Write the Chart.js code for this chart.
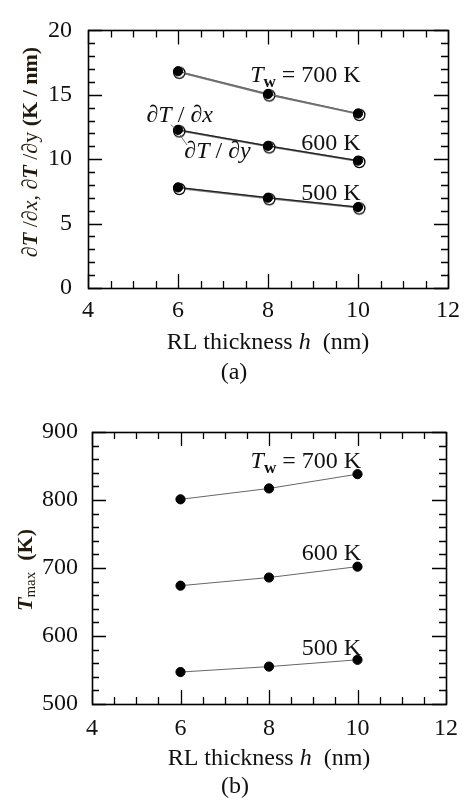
<!DOCTYPE html>
<html>

<head>
    <meta charset="utf-8" />
    <style>
        body { margin: 0; background: #fff; }
        canvas { position: absolute; left: 0; }
    </style>
</head>

<body>
    <canvas id="chartA" width="468" height="400" style="top: 0px;"></canvas>
    <canvas id="chartB" width="468" height="400" style="top: 400px;"></canvas>

    <script src="https://cdn.jsdelivr.net/npm/chart.js"></script>
    <script type="text/javascript">

        // datos
        const thicknessNm = [6, 8, 10];

        // (a) gradientes dT/dx (punto lleno) y dT/dy (circulo abierto), K/nm
        const gradX700 = [16.83, 15.07, 13.55];
        const gradY700 = [16.79, 15.03, 13.52];
        const gradX600 = [12.28, 11.04, 9.89];
        const gradY600 = [12.24, 11.00, 9.86];
        const gradX500 = [7.81, 7.01, 6.28];
        const gradY500 = [7.77, 6.97, 6.25];

        // (b) temperatura maxima, K
        const tmax700 = [801, 817, 838];
        const tmax600 = [674, 686, 702];
        const tmax500 = [547, 555, 565];

        const xRange = [4, 12];
        const gradRange = [0, 20];
        const tmaxRange = [500, 900];

        const SERIF = '"Liberation Serif", "Times New Roman", serif';
        const R = '24px ' + SERIF;
        const I = 'italic 24px ' + SERIF;
        const R22 = '22px ' + SERIF;
        const I22 = 'italic 22px ' + SERIF;
        const B22 = 'bold 22px ' + SERIF;
        const BI22 = 'italic bold 22px ' + SERIF;
        const TITLE_COLOR = '#231a0c';

        function toXY(ys) {
            return thicknessNm.map((x, i) => ({ x: x, y: ys[i] }));
        }

        // circulo abierto un poco desplazado, como en la figura
        function ringStyle() {
            const c = document.createElement('canvas');
            c.width = 18; c.height = 18;
            const g = c.getContext('2d');
            g.beginPath();
            g.arc(9 + 1.3, 9 + 1.0, 5.6, 0, Math.PI * 2);
            g.fillStyle = '#fff';
            g.fill();
            g.lineWidth = 1.3;
            g.strokeStyle = '#000';
            g.stroke();
            return c;
        }

        function drawRich(ctx, x, y, segs, align) {
            let w = 0;
            segs.forEach(s => { ctx.font = s.f; s.w = ctx.measureText(s.t).width; w += s.w; });
            let cx = align === 'center' ? x - w / 2 : (align === 'right' ? x - w : x);
            segs.forEach(s => {
                ctx.font = s.f;
                ctx.fillText(s.t, cx, y + (s.dy || 0));
                cx += s.w;
            });
        }

        // marco, marcas hacia dentro y textos
        const framePlugin = {
            id: 'frame',
            afterDatasetsDraw(chart, args, opts) {
                const ctx = chart.ctx;
                const a = chart.chartArea;
                const xs = chart.scales.x, ys = chart.scales.y;
                ctx.save();
                ctx.strokeStyle = '#000';
                ctx.lineWidth = 1.3;
                ctx.beginPath();
                for (let v = xs.min; v <= xs.max + 1e-9; v += opts.xMinor) {
                    const p = Math.round(xs.getPixelForValue(v)) + 0.5;
                    const len = Math.abs(v / opts.xMajor - Math.round(v / opts.xMajor)) < 1e-6 ? 14 : 7;
                    ctx.moveTo(p, a.bottom); ctx.lineTo(p, a.bottom - len);
                    ctx.moveTo(p, a.top); ctx.lineTo(p, a.top + len);
                }
                for (let v = ys.min; v <= ys.max + 1e-9; v += opts.yMinor) {
                    const p = Math.round(ys.getPixelForValue(v)) + 0.5;
                    const len = Math.abs(v / opts.yMajor - Math.round(v / opts.yMajor)) < 1e-6 ? 14 : 7;
                    ctx.moveTo(a.left, p); ctx.lineTo(a.left + len, p);
                    ctx.moveTo(a.right, p); ctx.lineTo(a.right - len, p);
                }
                ctx.stroke();
                ctx.lineWidth = 1.6;
                ctx.strokeRect(Math.round(a.left) + 0.5, Math.round(a.top) + 0.5,
                    Math.round(a.right - a.left), Math.round(a.bottom - a.top));
                ctx.restore();
            },
            afterDraw(chart, args, opts) {
                const ctx = chart.ctx;
                const a = chart.chartArea;
                const xs = chart.scales.x, ys = chart.scales.y;
                ctx.save();
                ctx.fillStyle = '#111';
                ctx.textBaseline = 'alphabetic';
                (opts.notes || []).forEach(n => {
                    drawRich(ctx, xs.getPixelForValue(n.x), ys.getPixelForValue(n.y), n.segs, n.align);
                });
                ctx.strokeStyle = '#555';
                ctx.lineWidth = 0.8;
                (opts.leaders || []).forEach(l => {
                    ctx.beginPath();
                    ctx.moveTo(xs.getPixelForValue(l[0]), ys.getPixelForValue(l[1]));
                    ctx.lineTo(xs.getPixelForValue(l[2]), ys.getPixelForValue(l[3]));
                    ctx.stroke();
                });
                const cx = (a.left + a.right) / 2;
                drawRich(ctx, cx, opts.xTitleY, [
                    { t: 'RL thickness ', f: R }, { t: 'h', f: I }, { t: '  (nm)', f: R }
                ], 'center');
                drawRich(ctx, cx - 34, opts.tagY, [{ t: opts.tag, f: R }], 'center');
                ctx.fillStyle = TITLE_COLOR;
                ctx.translate(opts.yTitleX, opts.yTitleY);
                ctx.rotate(-Math.PI / 2);
                drawRich(ctx, 0, 0, opts.yTitle, 'center');
                ctx.restore();
            }
        };

        function makeChart(id, datasets, yRange, yStep, geo, frameOpts) {
            return new Chart(document.getElementById(id), {
                type: 'line',
                data: { datasets: datasets },
                options: {
                    responsive: false,
                    animation: false,
                    layout: { padding: { top: geo.top, right: geo.right, left: 0, bottom: 0 } },
                    plugins: { legend: { display: false }, tooltip: { enabled: false }, frame: frameOpts },
                    scales: {
                        x: {
                            type: 'linear', min: xRange[0], max: xRange[1],
                            grid: { display: false, drawTicks: false }, border: { display: false },
                            ticks: { stepSize: 2, color: '#111', font: { family: SERIF, size: 24 }, padding: geo.xPad, maxRotation: 0 },
                            afterFit: s => { s.height = geo.xHeight; }
                        },
                        y: {
                            min: yRange[0], max: yRange[1],
                            grid: { display: false, drawTicks: false }, border: { display: false },
                            ticks: { stepSize: yStep, color: '#111', font: { family: SERIF, size: 24 }, padding: geo.yPad },
                            afterFit: s => { s.width = geo.left; }
                        }
                    }
                },
                plugins: [framePlugin]
            });
        }

        const ring = ringStyle();

        function dotSet(ys, color, width) {
            return {
                data: toXY(ys), borderColor: color, borderWidth: width,
                pointStyle: 'circle', pointRadius: 4.6, pointBackgroundColor: '#000', pointBorderColor: '#000', pointBorderWidth: 1
            };
        }
        function ringSet(ys) {
            return { data: toXY(ys), borderColor: '#7a7a7a', borderWidth: 2, pointStyle: ring, pointRadius: 6 };
        }

        makeChart('chartA', [
            dotSet(gradX700, '#6a6a6a', 1.2), dotSet(gradX600, '#222', 1.2), dotSet(gradX500, '#222', 1.2),
            ringSet(gradY700), ringSet(gradY600), ringSet(gradY500)
        ], gradRange, 5,
            { top: 15, right: 17, left: 88, xHeight: 112, xPad: 8, yPad: 16 },
            {
                xMinor: 0.5, xMajor: 2, yMinor: 1, yMajor: 5,
                xTitleY: 349, tagY: 379, tag: '(a)', yTitleX: 37, yTitleY: 152,
                yTitle: [
                    { t: '\u2202', f: R22 }, { t: 'T', f: BI22 }, { t: ' /\u2202', f: R22 }, { t: 'x', f: I22 }, { t: ', \u2202', f: R22 },
                    { t: 'T', f: BI22 }, { t: ' /\u2202y ', f: R22 }, { t: '(K / nm)', f: B22 }
                ],
                notes: [
                    { x: 10.06, y: 15.98, align: 'right', segs: [{ t: 'T', f: I }, { t: 'w', f: 'bold 17px ' + SERIF, dy: 5 }, { t: ' = 700 K', f: R }] },
                    { x: 10.06, y: 10.71, align: 'right', segs: [{ t: '600 K', f: R }] },
                    { x: 10.06, y: 6.83, align: 'right', segs: [{ t: '500 K', f: R }] },
                    { x: 5.30, y: 12.9, align: 'left', segs: [{ t: '\u2202', f: R }, { t: 'T', f: I }, { t: ' / \u2202', f: R }, { t: 'x', f: I }] },
                    { x: 6.14, y: 10.12, align: 'left', segs: [{ t: '\u2202', f: R }, { t: 'T', f: I }, { t: ' / \u2202', f: R }, { t: 'y', f: I }] }
                ],
                leaders: [[5.84, 12.68, 5.94, 12.37], [6.03, 11.95, 6.20, 11.1]]
            });

        makeChart('chartB', [
            dotSet(tmax700, '#666', 1), dotSet(tmax600, '#666', 1), dotSet(tmax500, '#666', 1)
        ], tmaxRange, 100,
            { top: 32, right: 14, left: 92, xHeight: 96, xPad: 10, yPad: 14 },
            {
                xMinor: 0.5, xMajor: 2, yMinor: 20, yMajor: 100,
                xTitleY: 365, tagY: 393, tag: '(b)', yTitleX: 32, yTitleY: 170,
                yTitle: [
                    { t: 'T', f: BI22 }, { t: 'max', f: '15px ' + SERIF, dy: 3 }, { t: '  (K)', f: B22 }
                ],
                notes: [
                    { x: 10.08, y: 847, align: 'right', segs: [{ t: 'T', f: I }, { t: 'w', f: 'bold 17px ' + SERIF, dy: 5 }, { t: ' = 700 K', f: R }] },
                    { x: 10.08, y: 711.8, align: 'right', segs: [{ t: '600 K', f: R }] },
                    { x: 10.08, y: 572, align: 'right', segs: [{ t: '500 K', f: R }] }
                ]
            });

    </script>

</body>

</html>
